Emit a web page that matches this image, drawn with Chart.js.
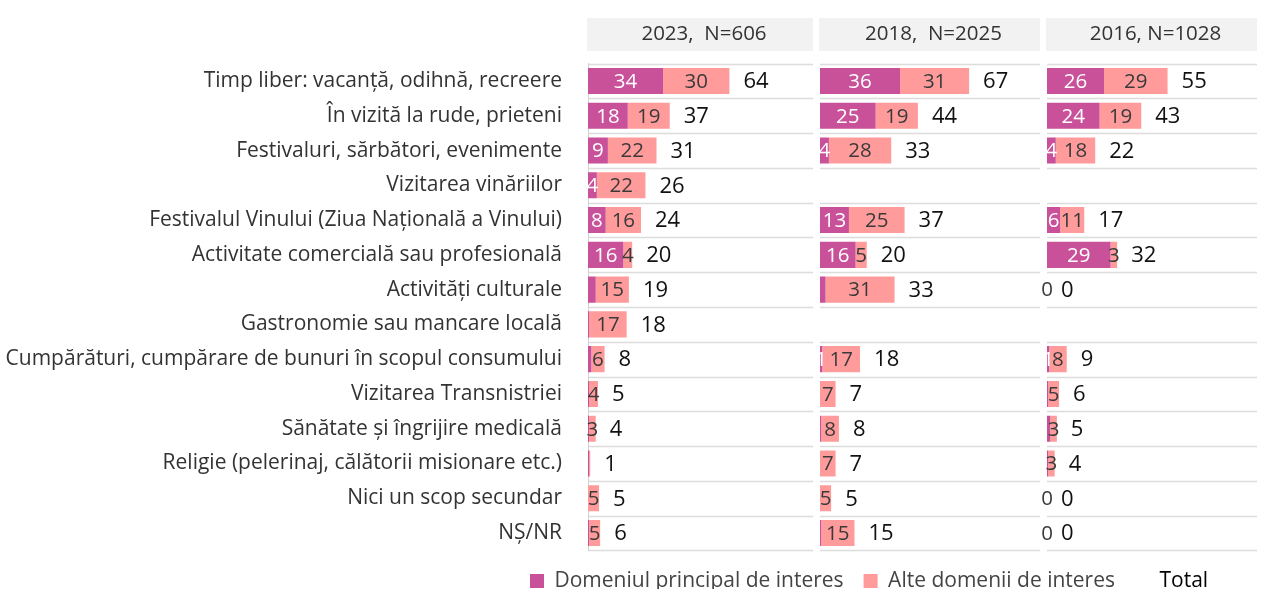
<!DOCTYPE html>
<html>
<head>
<meta charset="utf-8">
<script src="https://cdn.jsdelivr.net/npm/chart.js@4/dist/chart.umd.min.js"></script>
<style>
  html, body { margin: 0; padding: 0; background: #fff; }
  #wrap { width: 1264px; height: 589px; }
</style>
</head>
<body>
<div id="wrap"><canvas id="chart"></canvas></div>
<script>
const categories = [
    'Timp liber: vacanță, odihnă, recreere',
    'În vizită la rude, prieteni',
    'Festivaluri, sărbători, evenimente',
    'Vizitarea vinăriilor',
    'Festivalul Vinului (Ziua Națională a Vinului)',
    'Activitate comercială sau profesională',
    'Activități culturale',
    'Gastronomie sau mancare locală',
    'Cumpărături, cumpărare de bunuri în scopul consumului',
    'Vizitarea Transnistriei',
    'Sănătate și îngrijire medicală',
    'Religie (pelerinaj, călătorii misionare etc.)',
    'Nici un scop secundar',
    'NȘ/NR'
];

const panelTitles = ['2023,  N=606', '2018,  N=2025', '2016, N=1028'];

// fractional values = thin unlabeled slivers in the source
const main2023  = [34, 18, 9, 4, 8, 16, 3.5, 0.5, 1.5, 0.5, 0.5, 0.5, 0, 0.5];
const other2023 = [30, 19, 22, 22, 16, 4, 15, 17, 6, 4, 3, 0.5, 5, 5];
const total2023 = [64, 37, 31, 26, 24, 20, 19, 18, 8, 5, 4, 1, 5, 6];

const main2018  = [36, 25, 4, null, 13, 16, 2.5, null, 1, 0, 0.5, 0, 0, 0.5];
const other2018 = [31, 19, 28, null, 25, 5, 31, null, 17, 7, 8, 7, 5, 15];
const total2018 = [67, 44, 33, null, 37, 20, 33, null, 18, 7, 8, 7, 5, 15];

const main2016  = [26, 24, 4, null, 6, 29, 0, null, 1, 0.5, 1.5, 0.5, 0, 0];
const other2016 = [29, 19, 18, null, 11, 3, 0, null, 8, 5, 3, 3, 0, 0];
const total2016 = [55, 43, 22, null, 17, 32, 0, null, 9, 6, 5, 4, 0, 0];

const legendLabels = ['Domeniul principal de interes', 'Alte domenii de interes', 'Total'];

const MAGENTA = '#c95199';
const PINK = '#ff9b9b';
const FONT = '"Open Sans", "Noto Sans", sans-serif';

const panels = [
    { id: 'x1', main: main2023, other: other2023, total: total2023, weight: 232, max: 105 },
    { id: 'x2', main: main2018, other: other2018, total: total2018, weight: 227, max: 102 },
    { id: 'x3', main: main2016, other: other2016, total: total2016, weight: 217, max: 99 }
];

const datasets = [];
panels.forEach(function (p, i) {
    datasets.push({
        label: legendLabels[0], data: p.main, xAxisID: p.id, stack: 's' + i,
        backgroundColor: MAGENTA, grouped: false, labelColor: '#ffffff', isMain: true
    });
    datasets.push({
        label: legendLabels[1], data: p.other, xAxisID: p.id, stack: 's' + i,
        backgroundColor: PINK, grouped: false, labelColor: '#3a3a3a', isMain: false, total: p.total
    });
});

const scales = {
    y: {
        type: 'category',
        grid: { display: false, drawTicks: false },
        border: { display: true, color: '#d2d2d2', width: 1 },
        ticks: { color: '#333', padding: 26, font: { family: FONT, size: 21 } },
        afterFit: function (s) { s.width = 588; }
    }
};
// stacked top axes are laid out in reverse order, so add the last panel first
panels.slice().reverse().forEach(function (p) {
    const i = panels.indexOf(p);
    scales[p.id] = {
        type: 'linear', position: 'top', stack: 'panels', stackWeight: p.weight,
        stacked: true, min: 0, max: p.max,
        grid: { display: false, drawTicks: false },
        border: { display: false },
        ticks: { display: false },
        title: {
            display: true, text: panelTitles[i], color: '#333',
            font: { family: FONT, size: 20.5 }, padding: { top: 4, bottom: 17 }
        }
    };
});

function panelExtent(chart, s) {
    const right = Math.min(s.right - 7, chart.width - 2);
    return { left: s.left - 1, right: right };
}

// grey header boxes + row separators per panel
const panelDecor = {
    id: 'panelDecor',
    beforeDraw: function (chart) {
        const ctx = chart.ctx;
        const y = chart.scales.y;
        const n = categories.length;
        const step = (y.bottom - y.top) / n;
        panels.forEach(function (p) {
            const s = chart.scales[p.id];
            const e = panelExtent(chart, s);
            ctx.save();
            ctx.fillStyle = '#f2f2f2';
            ctx.fillRect(e.left, s.top, e.right - e.left, 33);
            ctx.strokeStyle = '#dcdcdc';
            ctx.lineWidth = 1.5;
            for (let k = 0; k <= n; k++) {
                const yy = Math.round(y.top + k * step) + 0.5;
                ctx.beginPath();
                ctx.moveTo(s.left, yy);
                ctx.lineTo(e.right, yy);
                ctx.stroke();
            }
            ctx.restore();
        });
    },
    afterLayout: function (chart) {
        const lg = chart.legend;
        if (!lg || !lg.lineWidths) return;
        const pad = lg.options.labels.padding;
        const x0 = (lg.left + pad + lg.right - lg.lineWidths[0]) / 2;
        const dx = 530 - x0;
        lg.left += dx;
        lg.right += dx;
    }
};

// value labels inside segments + totals after the bars
const valueLabels = {
    id: 'valueLabels',
    afterDatasetsDraw: function (chart) {
        const ctx = chart.ctx;
        ctx.save();
        ctx.textBaseline = 'middle';
        chart.data.datasets.forEach(function (ds, di) {
            const meta = chart.getDatasetMeta(di);
            meta.data.forEach(function (bar, i) {
                const v = ds.data[i];
                if (v === null || v === undefined) return;
                const show = Number.isInteger(v) && (ds.isMain ? v > 0 : true);
                if (show) {
                    ctx.font = '20.5px ' + FONT;
                    ctx.fillStyle = ds.labelColor;
                    ctx.textAlign = 'center';
                    ctx.fillText(String(v), (bar.x + bar.base) / 2, bar.y + 1);
                }
                if (ds.total && ds.total[i] !== null) {
                    ctx.font = '22px ' + FONT;
                    ctx.fillStyle = '#111';
                    ctx.textAlign = 'left';
                    ctx.fillText(String(ds.total[i]), Math.max(bar.x, bar.base) + 14, bar.y + 1);
                }
            });
        });
        ctx.restore();
    }
};

const chart = new Chart(document.getElementById('chart').getContext('2d'), {
    type: 'bar',
    data: { labels: categories, datasets: datasets },
    options: {
        indexAxis: 'y',
        responsive: true,
        maintainAspectRatio: false,
        animation: false,
        barPercentage: 0.75,
        categoryPercentage: 1,
        layout: { padding: { top: 18, right: 0, bottom: -19, left: 0 } },
        scales: scales,
        plugins: {
            tooltip: { enabled: false },
            legend: {
                position: 'bottom',
                labels: {
                    boxWidth: 14,
                    boxHeight: 14,
                    padding: 20,
                    color: '#444',
                    font: { family: FONT, size: 21 },
                    generateLabels: function () {
                        return [
                            { text: legendLabels[0], fillStyle: MAGENTA, strokeStyle: MAGENTA, lineWidth: 0, fontColor: '#444', hidden: false },
                            { text: legendLabels[1], fillStyle: PINK, strokeStyle: PINK, lineWidth: 0, fontColor: '#444', hidden: false },
                            { text: legendLabels[2], fillStyle: 'rgba(0,0,0,0)', strokeStyle: 'rgba(0,0,0,0)', lineWidth: 0, fontColor: '#000', hidden: false }
                        ];
                    }
                }
            }
        }
    },
    plugins: [panelDecor, valueLabels]
});
</script>
</body>
</html>
